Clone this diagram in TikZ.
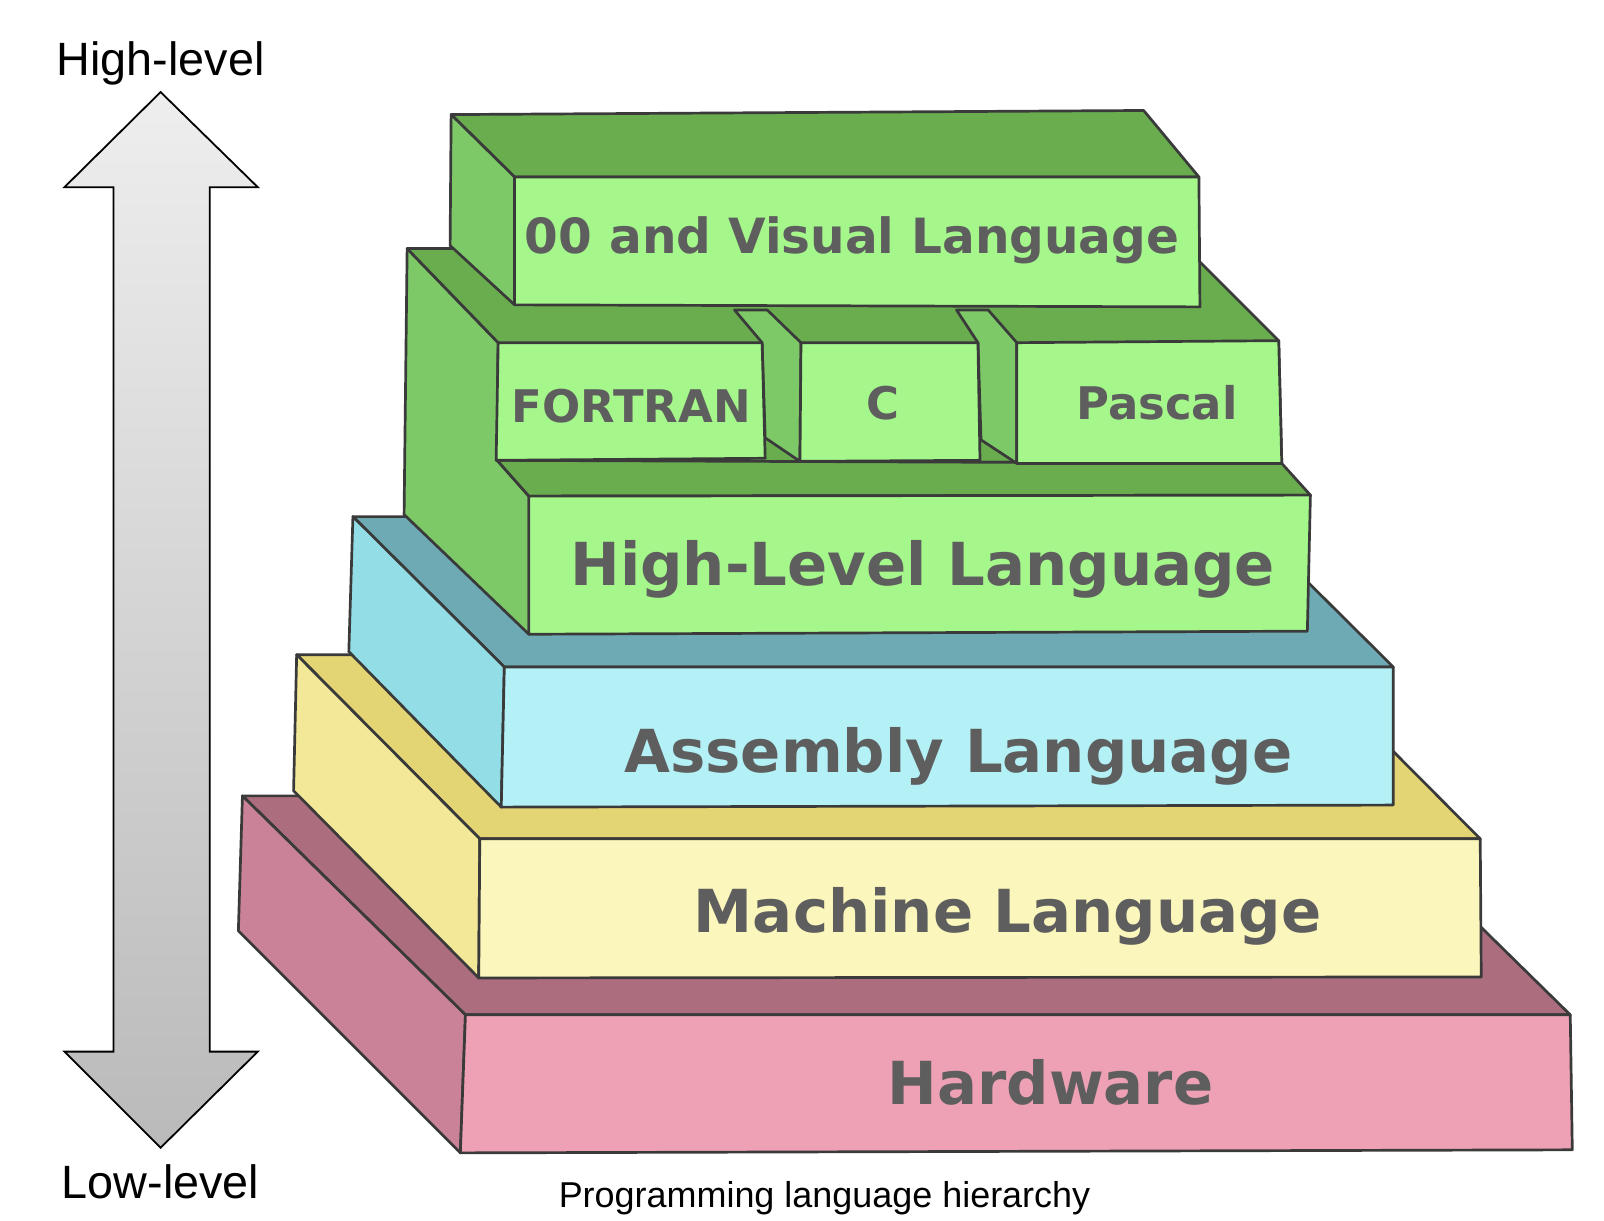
\documentclass[tikz,border=0pt]{standalone}
\usepackage{fontspec}
\setmainfont{Liberation Sans}
\newfontfamily\blockfont{DejaVu Sans}

\definecolor{edgegray}{RGB}{58,58,58}
\definecolor{labelgray}{RGB}{94,94,94}
\definecolor{arrowtop}{RGB}{238,238,238}
\definecolor{arrowbottom}{RGB}{186,186,186}
\definecolor{pinkfront}{RGB}{238,161,181}
\definecolor{pinktop}{RGB}{172,109,126}
\definecolor{pinkside}{RGB}{201,130,151}
\definecolor{yellowfront}{RGB}{251,246,187}
\definecolor{yellowtop}{RGB}{227,213,116}
\definecolor{yellowside}{RGB}{242,232,152}
\definecolor{bluefront}{RGB}{179,241,247}
\definecolor{bluetop}{RGB}{110,170,180}
\definecolor{blueside}{RGB}{147,222,230}
\definecolor{greenfront}{RGB}{165,247,139}
\definecolor{greentop}{RGB}{105,173,79}
\definecolor{greenside}{RGB}{125,201,104}

\begin{document}
\begin{tikzpicture}[x=0.02cm, y=-0.02cm,
    face/.style={draw=edgegray, line width=1.5pt, line join=round},
    blocklabel/.style={anchor=base, text=labelgray, font=\blockfont\bfseries\fontsize{33}{40}\selectfont},
    boxlabel/.style={anchor=base, text=labelgray, font=\blockfont\bfseries\fontsize{25}{30}\selectfont},
    levellabel/.style={anchor=base, font=\fontsize{26}{30}\selectfont}
]
\useasboundingbox (0,0) rectangle (1568,1193);

% level arrow
\draw[line width=1pt, line join=miter, top color=arrowtop, bottom color=arrowbottom]
    (157,90) -- (252,183) -- (205,183) -- (205,1028) -- (252,1028) -- (157,1122)
    -- (63,1028) -- (111,1028) -- (111,183) -- (63,183) -- cycle;
\node[levellabel] (high) at (157,74) {High-level};
\node[levellabel] (low) at (157,1172) {Low-level};

% hardware
\filldraw[face, fill=pinktop] (237,778) -- (1317,778) -- (1535,992) -- (455,992) -- cycle;
\filldraw[face, fill=pinkside] (237,778) -- (233,910) -- (450,1127) -- (455,992) -- cycle;
\filldraw[face, fill=pinkfront] (455,992) -- (1535,992) -- (1537,1124) -- (450,1127) -- cycle;

% machine language
\filldraw[face, fill=yellowtop] (290,640) -- (1268,640) -- (1447,820) -- (469,820) -- cycle;
\filldraw[face, fill=yellowside] (290,640) -- (287,773) -- (468,956) -- (469,820) -- cycle;
\filldraw[face, fill=yellowfront] (469,820) -- (1447,820) -- (1448,955) -- (468,956) -- cycle;

% assembly language
\filldraw[face, fill=bluetop] (345,505) -- (1214,505) -- (1362,652) -- (493,652) -- cycle;
\filldraw[face, fill=blueside] (345,505) -- (341,637) -- (490,789) -- (493,652) -- cycle;
\filldraw[face, fill=bluefront] (493,652) -- (1362,652) -- (1362,787) -- (490,789) -- cycle;

% high-level block
\filldraw[face, fill=greenside] (398,243) -- (395,503) -- (517,620) -- (517,485)
    -- (486,450) -- (487,335) -- cycle;
\filldraw[face, fill=greentop] (398,243) -- (1160,243) -- (1250,333) -- (1253,453)
    -- (486,450) -- (487,335) -- cycle;
\filldraw[face, fill=greentop] (486,450) -- (1253,453) -- (1281,484) -- (517,485) -- cycle;
\filldraw[face, fill=greenfront] (517,485) -- (1281,484) -- (1278,617) -- (517,620) -- cycle;

% fortran, c, pascal
\filldraw[face, fill=greenside] (718,303) -- (750,303) -- (783,335) -- (782,451)
    -- (748,428) -- (745,335) -- cycle;
\filldraw[face, fill=greenside] (935,303) -- (966,303) -- (994,335) -- (994,453)
    -- (959,430) -- (956,335) -- cycle;
\filldraw[face, fill=greenfront] (487,335) -- (745,335) -- (748,448) -- (485,450) -- cycle;
\filldraw[face, fill=greenfront] (783,335) -- (956,335) -- (958,450) -- (782,451) -- cycle;
\filldraw[face, fill=greenfront] (994,335) -- (1250,333) -- (1253,453) -- (994,453) -- cycle;

% oo and visual language
\filldraw[face, fill=greentop] (441,112) -- (1118,108) -- (1172,173) -- (503,173) -- cycle;
\filldraw[face, fill=greenside] (441,112) -- (440,240) -- (503,298) -- (503,173) -- cycle;
\filldraw[face, fill=greenfront] (503,173) -- (1172,173) -- (1173,300) -- (503,298) -- cycle;

\node[blocklabel, font=\blockfont\bfseries\fontsize{27}{32}\selectfont] (oo) at (833,248) {00 and Visual Language};
\node[boxlabel] (fortran) at (617,413) {FORTRAN};
\node[boxlabel] (c) at (863,410) {C};
\node[boxlabel] (pascal) at (1131,410) {Pascal};
\node[blocklabel] (hll) at (902,572) {High-Level Language};
\node[blocklabel] (asm) at (937,755) {Assembly Language};
\node[blocklabel] (mach) at (985,912) {Machine Language};
\node[blocklabel] (hw) at (1027,1080) {Hardware};

\node[anchor=base, font=\fontsize{20}{24}\selectfont] (caption) at (806,1180) {Programming language hierarchy};
\end{tikzpicture}
\end{document}
